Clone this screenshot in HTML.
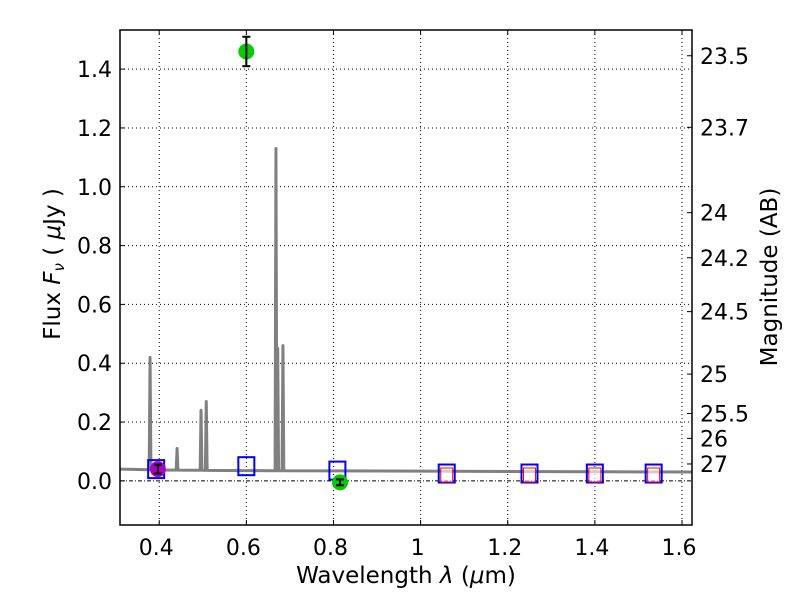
<!DOCTYPE html>
<html><head><meta charset="utf-8"><style>
body{margin:0;background:#fff}
svg{font-family:"DejaVu Sans","Liberation Sans",sans-serif}
</style></head><body>
<svg id="c" width="800" height="600" xmlns="http://www.w3.org/2000/svg"></svg>
<script>
const xTicks=[0.4,0.6,0.8,1.0,1.2,1.4,1.6];
const xTickLabels=["0.4","0.6","0.8","1","1.2","1.4","1.6"];
const yTicks=[0,0.2,0.4,0.6,0.8,1.0,1.2,1.4];
const yTickLabels=["0.0","0.2","0.4","0.6","0.8","1.0","1.2","1.4"];
const magTicks=[23.5,23.7,24,24.2,24.5,25,25.5,26,27];
const magLabels=["23.5","23.7","24","24.2","24.5","25","25.5","26","27"];
const contX=[0.31,0.4,0.5,0.6,0.8,1.0,1.2,1.4,1.623];
const contY=[0.04,0.037,0.036,0.035,0.034,0.033,0.032,0.031,0.030];
const lineX=[0.379,0.441,0.496,0.508,0.668,0.672,0.684];
const lineY=[0.42,0.11,0.24,0.27,1.13,0.45,0.46];
const bluX=[0.393,0.6,0.809,1.06,1.25,1.40,1.535];
const bluY=[0.04,0.05,0.035,0.025,0.025,0.025,0.025];
const redX=[1.06,1.25,1.40,1.535];
const redY=[0.02,0.02,0.02,0.02];
const greenX=[0.6,0.815];
const greenY=[1.46,-0.005];
const greenErr=[0.05,0.01];
const purpX=[0.397];
const purpY=[0.04];
const purpErr=[0.015];

const L=120,R=692,T=30,B=525,x0=0.31,x1=1.623,y0=-0.15,y1=1.533;
const X=v=>L+(v-x0)/(x1-x0)*(R-L);
const Y=v=>B-(v-y0)/(y1-y0)*(B-T);
const svg=document.getElementById('c');
const NS="http://www.w3.org/2000/svg";
function mk(t,a,p){const e=document.createElementNS(NS,t);for(const k in a)e.setAttribute(k,a[k]);(p||svg).appendChild(e);return e;}
svg.innerHTML='';
xTicks.forEach((v,i)=>{
 const g=mk('line',{x1:X(v),x2:X(v),y1:T,y2:B,stroke:'#000','stroke-dasharray':'1,3','stroke-width':1});
 
 
 mk('line',{x1:X(v),x2:X(v),y1:B,y2:B-5,stroke:'#000'});
 mk('line',{x1:X(v),x2:X(v),y1:T,y2:T+5,stroke:'#000'});
 const t=mk('text',{x:X(v)-3,y:B+30,'text-anchor':'middle','font-size':22});t.textContent=xTickLabels[i];
 
 
});
yTicks.forEach((v,i)=>{
 const g=mk('line',{x1:L,x2:R,y1:Y(v),y2:Y(v),stroke:'#000','stroke-dasharray':v===0?'4,2,1,2':'1,3','stroke-width':1});
 
 
 mk('line',{x1:L,x2:L+5,y1:Y(v),y2:Y(v),stroke:'#000'});
 const t=mk('text',{x:L-8,y:Y(v)+8,'text-anchor':'end','font-size':22});t.textContent=yTickLabels[i];
 
 
});
magTicks.forEach((m,i)=>{
 const f=Math.pow(10,(23.9-m)/2.5);
 mk('line',{x1:R,x2:R-5,y1:Y(f),y2:Y(f),stroke:'#000'});
 const t=mk('text',{x:R+8,y:Y(f)+8,'font-size':22});t.textContent=magLabels[i];
 
 
});
let pts=[];
for(let i=0;i<contX.length;i++)pts.push([contX[i],contY[i]]);
const cont=v=>{for(let i=0;i<contX.length-1;i++)if(v<=contX[i+1])return contY[i]+(contY[i+1]-contY[i])*(v-contX[i])/(contX[i+1]-contX[i]);return contY[contY.length-1];};
lineX.forEach((lx,i)=>{pts.push([lx-0.002,cont(lx)]);pts.push([lx,lineY[i]]);pts.push([lx+0.002,cont(lx)]);});
pts.sort((a,b)=>a[0]-b[0]);
const sp=mk('polyline',{points:pts.map(p=>X(p[0])+','+Y(p[1])).join(' '),fill:'none',stroke:'#808080','stroke-width':3,'stroke-linejoin':'round'});


bluX.forEach((v,i)=>{const r=mk('rect',{x:X(v)-8,y:Y(bluY[i])-9,width:16,height:18,fill:'none',stroke:'#0000ff','stroke-width':2});
 
 });
redX.forEach((v,i)=>{const r=mk('rect',{x:X(v)-6,y:Y(redY[i])-7,width:12,height:14,fill:'#fff','fill-opacity':0.6,stroke:'#ff0000','stroke-width':1});
 
 });
function pt(x,y,e,col,name){
 const c=mk('circle',{cx:X(x),cy:Y(y),r:8,fill:col});
 
 
 mk('line',{x1:X(x),x2:X(x),y1:Y(y-e),y2:Y(y+e),stroke:'#000','stroke-width':2});
 mk('line',{x1:X(x)-4,x2:X(x)+4,y1:Y(y-e),y2:Y(y-e),stroke:'#000','stroke-width':2});
 mk('line',{x1:X(x)-4,x2:X(x)+4,y1:Y(y+e),y2:Y(y+e),stroke:'#000','stroke-width':2});
}
greenX.forEach((v,i)=>pt(v,greenY[i],greenErr[i],'#00cc00','observed-point'));
purpX.forEach((v,i)=>pt(v,purpY[i],purpErr[i],'#aa00cc','purple-point'));
const fr=mk('rect',{x:L,y:T,width:R-L,height:B-T,fill:'none',stroke:'#000','stroke-width':1.5});


const xl=mk('text',{x:406,y:583,'text-anchor':'middle','font-size':23});
xl.innerHTML='Wavelength  <tspan font-style="italic">λ</tspan> (<tspan font-style="italic">μ</tspan>m)';


const yl=mk('text',{x:0,y:0,'text-anchor':'middle','font-size':23,transform:'translate(60,264) rotate(-90)'});
yl.innerHTML='Flux  <tspan font-style="italic">F</tspan><tspan font-style="italic" font-size="15" dy="4">ν</tspan><tspan dy="-4">  ( </tspan><tspan font-style="italic">μ</tspan>Jy )';


const rl=mk('text',{x:0,y:0,'text-anchor':'middle','font-size':23,transform:'translate(777,277) rotate(-90)'});
rl.textContent='Magnitude (AB)';


</script>
</body></html>
